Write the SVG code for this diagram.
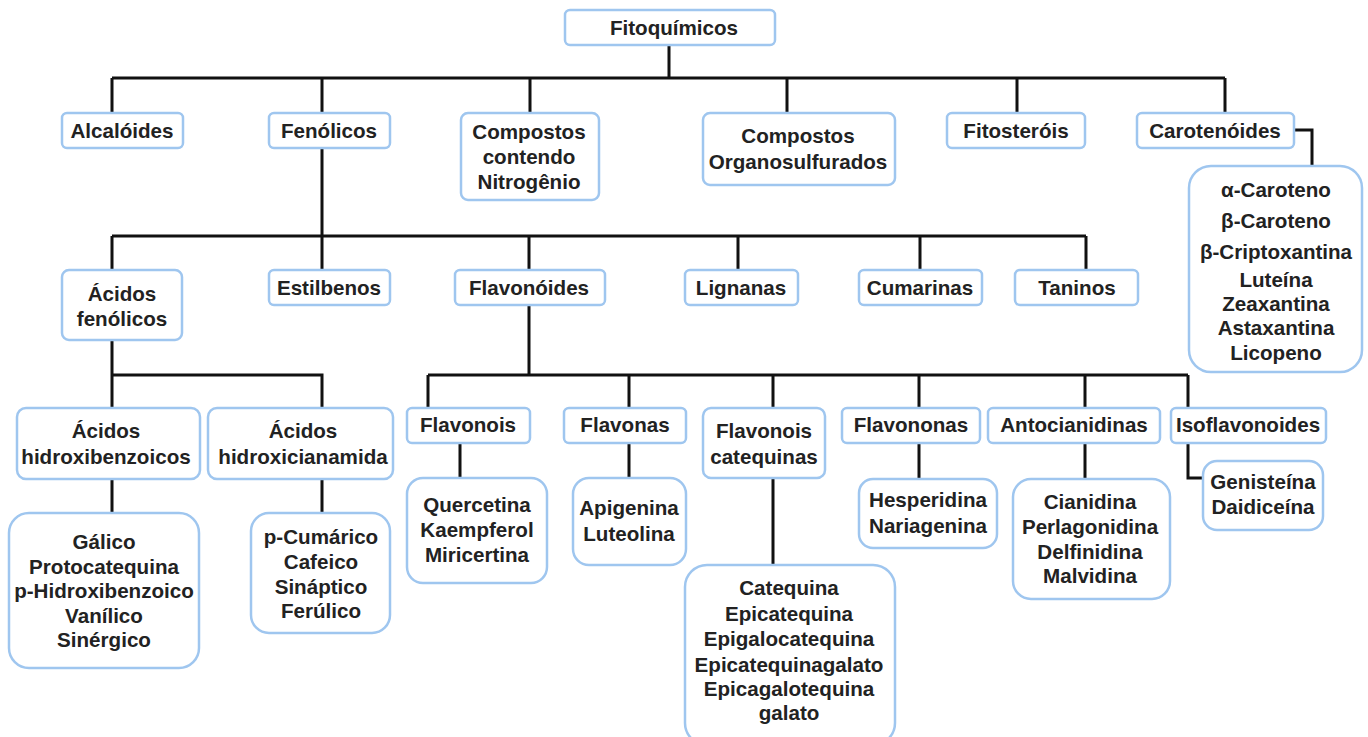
<svg xmlns="http://www.w3.org/2000/svg" width="1368" height="737" viewBox="0 0 1368 737">
<style>
.b{fill:#fff;stroke:#9fc6ef;stroke-width:2.5}
.t{font-family:"Liberation Sans",Arial,sans-serif;font-weight:bold;font-size:20.6px;fill:#222;text-anchor:middle}
.c{fill:none;stroke:#111;stroke-width:3}
</style>
<rect width="1368" height="737" fill="#fff"/>
<g id="connectors" class="c">
<path d="M669 45V78M112 78H1225M112 78V113M322 78V113M530 78V113M787 78V113M1017 78V113M1225 78V113"/>
<path d="M1294 130H1312V166"/>
<path d="M322 148V236M112 236H1086M112 236V270M322 236V270M529 236V270M738 236V270M920 236V270M1086 236V270"/>
<path d="M112 340V375H322V408M112 375V408"/>
<path d="M529 305V375M428 375H1188M428 375V408M629 375V408M773 375V408M919 375V408M1085 375V408M1188 375V408"/>
<path d="M112 479V513M322 479V513M460 443V478M629 443V478M773 478V565M919 443V479M1085 443V479M1188 443V478H1203"/>
</g>
<g id="fitoquimicos"><rect class="b" x="565" y="10" width="210" height="35" rx="5"/><text class="t" x="674" y="35">Fitoquímicos</text></g>
<g id="alcaloides"><rect class="b" x="62" y="113" width="121" height="35" rx="5"/><text class="t" x="122" y="138">Alcalóides</text></g>
<g id="fenolicos"><rect class="b" x="269" y="113" width="121" height="35" rx="5"/><text class="t" x="329" y="138">Fenólicos</text></g>
<g id="nitrogenio"><rect class="b" x="461" y="113" width="138" height="87" rx="7"/><text class="t" x="529" y="139">Compostos</text><text class="t" x="529" y="164">contendo</text><text class="t" x="529" y="189">Nitrogênio</text></g>
<g id="organosulfurados"><rect class="b" x="703" y="113" width="192" height="72" rx="7"/><text class="t" x="798" y="143">Compostos</text><text class="t" x="798" y="169">Organosulfurados</text></g>
<g id="fitosterois"><rect class="b" x="947" y="113" width="138" height="35" rx="5"/><text class="t" x="1016" y="138">Fitosteróis</text></g>
<g id="carotenoides"><rect class="b" x="1137" y="113" width="157" height="35" rx="5"/><text class="t" x="1215" y="138">Carotenóides</text></g>
<g id="carotenos"><rect class="b" x="1189" y="166" width="173" height="206" rx="22"/>
<text class="t" x="1276" y="197">α-Caroteno</text><text class="t" x="1276" y="228">β-Caroteno</text><text class="t" x="1276" y="259">β-Criptoxantina</text><text class="t" x="1276" y="287">Luteína</text><text class="t" x="1276" y="311">Zeaxantina</text><text class="t" x="1276" y="335">Astaxantina</text><text class="t" x="1276" y="360">Licopeno</text></g>
<g id="acidos-fenolicos"><rect class="b" x="62" y="270" width="120" height="70" rx="7"/><text class="t" x="122" y="301">Ácidos</text><text class="t" x="122" y="326">fenólicos</text></g>
<g id="estilbenos"><rect class="b" x="269" y="270" width="121" height="35" rx="5"/><text class="t" x="329" y="295">Estilbenos</text></g>
<g id="flavonoides"><rect class="b" x="455" y="270" width="150" height="35" rx="5"/><text class="t" x="529" y="295">Flavonóides</text></g>
<g id="lignanas"><rect class="b" x="685" y="270" width="113" height="35" rx="5"/><text class="t" x="741" y="295">Lignanas</text></g>
<g id="cumarinas"><rect class="b" x="859" y="270" width="123" height="35" rx="5"/><text class="t" x="920" y="295">Cumarinas</text></g>
<g id="taninos"><rect class="b" x="1015" y="270" width="123" height="35" rx="5"/><text class="t" x="1077" y="295">Taninos</text></g>
<g id="hidroxibenzoicos"><rect class="b" x="17" y="408" width="183" height="71" rx="9"/><text class="t" x="106" y="438">Ácidos</text><text class="t" x="106" y="464">hidroxibenzoicos</text></g>
<g id="hidroxicianamida"><rect class="b" x="208" y="408" width="185" height="71" rx="9"/><text class="t" x="303" y="438">Ácidos</text><text class="t" x="303" y="464">hidroxicianamida</text></g>
<g id="lista-benzoicos"><rect class="b" x="9" y="513" width="190" height="155" rx="20"/><text class="t" x="104" y="549">Gálico</text><text class="t" x="104" y="574">Protocatequina</text><text class="t" x="104" y="598">p-Hidroxibenzoico</text><text class="t" x="104" y="623">Vanílico</text><text class="t" x="104" y="647">Sinérgico</text></g>
<g id="lista-cianamida"><rect class="b" x="251" y="513" width="139" height="120" rx="18"/><text class="t" x="321" y="544">p-Cumárico</text><text class="t" x="321" y="569">Cafeico</text><text class="t" x="321" y="594">Sináptico</text><text class="t" x="321" y="618">Ferúlico</text></g>
<g id="flavonois"><rect class="b" x="407" y="408" width="123" height="35" rx="5"/><text class="t" x="468" y="432">Flavonois</text></g>
<g id="flavonas"><rect class="b" x="564" y="408" width="122" height="35" rx="5"/><text class="t" x="625" y="432">Flavonas</text></g>
<g id="flavonois-catequinas"><rect class="b" x="703" y="408" width="122" height="70" rx="8"/><text class="t" x="764" y="438">Flavonois</text><text class="t" x="764" y="464">catequinas</text></g>
<g id="flavononas"><rect class="b" x="842" y="408" width="138" height="35" rx="5"/><text class="t" x="911" y="432">Flavononas</text></g>
<g id="antocianidinas"><rect class="b" x="988" y="408" width="172" height="35" rx="5"/><text class="t" x="1074" y="432">Antocianidinas</text></g>
<g id="isoflavonoides"><rect class="b" x="1171" y="408" width="155" height="35" rx="5"/><text class="t" x="1248" y="432">Isoflavonoides</text></g>
<g id="lista-flavonois"><rect class="b" x="407" y="478" width="140" height="105" rx="16"/><text class="t" x="477" y="512">Quercetina</text><text class="t" x="477" y="537">Kaempferol</text><text class="t" x="477" y="562">Miricertina</text></g>
<g id="lista-flavonas"><rect class="b" x="573" y="478" width="113" height="87" rx="16"/><text class="t" x="629" y="515">Apigenina</text><text class="t" x="629" y="541">Luteolina</text></g>
<g id="lista-catequinas"><rect class="b" x="685" y="565" width="210" height="180" rx="22"/><text class="t" x="789" y="595">Catequina</text><text class="t" x="789" y="621">Epicatequina</text><text class="t" x="789" y="646">Epigalocatequina</text><text class="t" x="789" y="672">Epicatequinagalato</text><text class="t" x="789" y="696">Epicagalotequina</text><text class="t" x="789" y="720">galato</text></g>
<g id="lista-flavononas"><rect class="b" x="859" y="479" width="138" height="69" rx="14"/><text class="t" x="928" y="507">Hesperidina</text><text class="t" x="928" y="533">Nariagenina</text></g>
<g id="lista-antocianidinas"><rect class="b" x="1013" y="479" width="157" height="120" rx="18"/><text class="t" x="1090" y="509">Cianidina</text><text class="t" x="1090" y="534">Perlagonidina</text><text class="t" x="1090" y="559">Delfinidina</text><text class="t" x="1090" y="583">Malvidina</text></g>
<g id="lista-isoflavonoides"><rect class="b" x="1203" y="461" width="120" height="69" rx="14"/><text class="t" x="1263" y="489">Genisteína</text><text class="t" x="1263" y="514">Daidiceína</text></g>
</svg>
